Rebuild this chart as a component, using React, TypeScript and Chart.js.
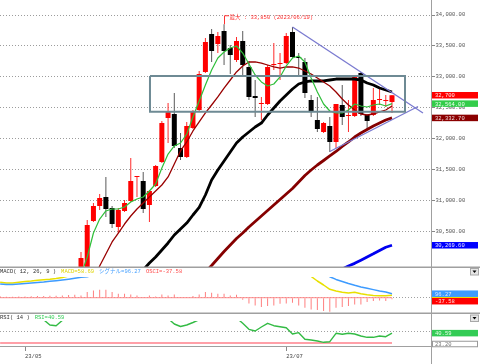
import React, { useEffect, useRef } from "react";
import { Chart, registerables } from "chart.js";
Chart.register(...registerables);

// ---------------- data ----------------
const N = null;
const xTickSlots = [4, 46];
const xTickLabels = ["23/05", "23/07"];
const priceTicks = [30500, 31000, 31500, 32000, 32500, 33000, 33500, 34000];
const maxHighDate = "2023/06/19";

const opens = [28850,28900,29020,28980,29120,29150,28950,29150,29250,29350,29200,29380,29500,
  29788,29901,30663,30906,31052,30873,30566,30825,30987,31376,31311,30922,31230,31619,32331,32396,31845,31700,32169,32461,33077,33692,33530,33741,33465,33271,33579,33158,32688,32558,32558,33190,33206,33222,33725,33320,33239,32623,32299,32105,32202,31943,32542,32364,32364,33060,32380,32380,32623,32607,32591];
const highs = [28950,29050,29120,29150,29250,29200,29180,29300,29400,29450,29420,29550,29700,
  30161,30679,30954,31100,31376,30906,30873,31003,31683,31392,31457,31165,31570,32283,32574,32736,32088,32267,32461,33093,33627,33773,33725,33850,33514,33644,33741,33255,32947,32672,33190,33547,33384,33708,33806,33384,33303,32704,32672,32267,32348,32558,32866,32623,32996,33077,32396,32817,32817,32704,32700];
const lows = [28780,28860,28950,28940,29050,28900,28920,29100,29200,29150,29180,29320,29450,
  29739,29869,30647,30841,30728,30549,30468,30809,30971,31052,30792,30647,31214,31602,31926,31845,31651,31683,32153,32445,33060,33239,33384,33190,33044,33239,33028,32623,32348,32299,32542,33109,32947,33206,33303,33028,32655,32348,32105,32088,31781,31845,32218,32105,32348,32364,32137,32364,32542,32510,32412];
const closes = [28900,29020,28980,29120,29150,28950,29150,29250,29350,29200,29380,29500,29650,
  30063,30598,30906,31035,30857,30614,30841,30954,31311,31392,30857,31149,31554,32250,32429,31878,31700,32202,32429,33044,33563,33417,33660,33417,33352,33579,33190,32672,32655,32574,33158,33206,33222,33660,33320,33303,32736,32429,32153,32250,31943,32558,32348,32380,32996,32396,32283,32623,32639,32623,32700];

const maShort = [N,N,N,N,N,N,N,N,N,N,N,N,
  29550,29788,30080,30468,30695,30825,30857,30857,30890,30971,31019,31052,31149,31262,31521,31748,31878,31926,32072,32348,32607,32866,33109,33303,33401,33465,33498,33384,33206,33028,32915,32850,32882,32996,33174,33303,33336,33239,32979,32753,32558,32445,32412,32412,32461,32558,32526,32510,32542,32558,32526,32564];
const maMid = [N,N,N,N,N,N,N,N,N,N,N,N,N,N,N,
  29700,29934,30128,30323,30468,30614,30744,30857,30954,31052,31149,31246,31376,31586,31797,31943,32121,32267,32413,32542,32672,32817,32947,33077,33174,33239,33239,33222,33190,33158,33141,33158,33158,33141,33093,33044,32979,32915,32850,32753,32639,32542,32461,32396,32380,32396,32429,32461,32526];
const maLong = [N,N,N,N,N,N,N,N,N,N,N,N,N,N,N,N,N,N,N,N,N,N,
  29755,29869,29982,30080,30193,30307,30436,30533,30630,30760,30882,31084,31327,31489,31635,31781,31926,32024,32105,32186,32250,32380,32493,32607,32704,32801,32882,32915,32931,32931,32931,32947,32963,32963,32963,32963,32947,32898,32866,32817,32785,32753];
const maThick = [N,N,N,N,N,N,N,N,N,N,N,N,N,N,N,N,N,N,N,N,N,N,N,N,N,N,N,N,N,N,N,N,N,
  29837,29942,30055,30169,30274,30379,30468,30566,30655,30744,30833,30922,31011,31100,31189,31295,31400,31489,31570,31643,31716,31789,31870,31943,32024,32088,32145,32202,32250,32299,32332.7];
const ma200 = [N,N,N,N,N,N,N,N,N,N,N,N,N,N,N,N,N,N,N,N,N,N,N,N,N,N,N,N,N,N,N,N,N,N,N,N,N,N,N,N,N,N,N,N,N,N,N,N,N,N,N,N,N,N,
  29788,29885,29935,29977,30028,30080,30131,30185,30238,30269.6];

const boxSlots = [24.09, 65.09];
const boxPrices = [33012, 32433];
const upperTrendSlots = [47, 67.98];
const upperTrendPrices = [33806, 32412];
const lowerTrendSlots = [53, 67.18];
const lowerTrendPrices = [31788, 32517];

const macdLine = [370,353,353,370,389,401,418,432,442,461,485,
  520,545,560,640,720,790,840,850,860,880,890,880,850,870,860,900,910,940,910,900,920,960,1040,1060,1070,1090,1060,1080,1000,920,880,840,840,830,840,820,810,730,650,
  509,401,305,202,161,132,113,130,94,70,55,48,48,58.69];
const signalLine = [329,317,317,329,341,353,365,377,394,408,425,444,466,490,
  503,545,598,648,713,764,784,811,825,833,815,829,821,855,861,893,883,879,881,903,940,974,994,1005,1008,1048,1057,1065,1063,1039,1015,984,957,930,915,890,790,696,624,
  504,439,391,341,298,259,226,194,163,137,96.27];
const osci = [36,24,24,31,31,36,41,41,48,48,55,65,72,
  55,137,175,192,192,137,96,96,79,55,17,55,31,79,55,79,17,17,41,79,137,120,96,96,55,72,
  -48,-137,-185,-223,-199,-185,-144,-137,-120,-185,-240,-281,-295,-319,-336,-240,-223,-199,-161,-161,-103,-79,-65,-79,-37.58];

const rsi = [68,66,63,64,66,65,63,62,53.6,52.5,61,64,68,72,78,80,82,83,80,77,78,74,72,73,75,70,68,64,55.2,51.2,
  53.6,57.6,62,70,74,76,75,72,65,56.3,46.7,44,50.4,56.3,52.5,50.9,49.3,39.2,41.3,30.7,29.6,28,25.9,26.9,40.3,38.7,40.3,39.2,36,33.9,
  33.9,36,34.9,40.59];
const rsiLowerLevel = 25;
const rsiGridLevel = 42.5;
const rsiMinLabel = 23.2;

// ---------------- view ranges ----------------
const X_MIN = -0.0225, X_MAX = 69.27;
const PRICE_MIN = 29917.6, PRICE_MAX = 34243;
const MACD_MIN = -367, MACD_MAX = 497;
const RSI_MIN = 20, RSI_MAX = 60;

const MONO = "'Liberation Mono', 'DejaVu Sans Mono', 'Noto Sans CJK JP', monospace";
const FS = 5.5;
const FONT = `${FS}px ${MONO}`;

const fmt2 = (v: number) => v.toLocaleString("en-US", { minimumFractionDigits: 2, maximumFractionDigits: 2 });
const fmt0 = (v: number) => v.toLocaleString("en-US", { maximumFractionDigits: 0 });
const pts = (arr: any[]) => arr.map((v, i) => (v == null ? null : { x: i, y: v })).filter(Boolean);
const LAST = closes.length - 1;

function drawTag(ctx: any, area: any, y: number, text: string, bg: string, fg: string, border?: string) {
  const x = area.right + 1, w = 46, h = 6.5;
  ctx.save();
  ctx.fillStyle = bg;
  ctx.fillRect(x, y - h / 2, w, h);
  if (border) { ctx.strokeStyle = border; ctx.lineWidth = 1; ctx.strokeRect(x + 0.5, y - h / 2 + 0.5, w - 1, h - 1); }
  ctx.fillStyle = fg;
  ctx.font = FONT;
  ctx.textAlign = "left";
  ctx.textBaseline = "middle";
  ctx.fillText(text, x + 3, y + 0.5);
  ctx.restore();
}

function drawDropdown(ctx: any, width: number, top: number) {
  ctx.save();
  ctx.fillStyle = "#e6e6e6";
  ctx.fillRect(width - 9.5, top, 8, 6.5);
  ctx.strokeStyle = "#a8a8a8";
  ctx.lineWidth = 1;
  ctx.strokeRect(width - 9.5, top, 8, 6.5);
  ctx.fillStyle = "#000";
  ctx.beginPath();
  ctx.moveTo(width - 7.5, top + 2);
  ctx.lineTo(width - 3.5, top + 2);
  ctx.lineTo(width - 5.5, top + 4.5);
  ctx.closePath();
  ctx.fill();
  ctx.restore();
}

function drawHeader(ctx: any, y: number, parts: [string, string][]) {
  ctx.save();
  ctx.font = FONT;
  ctx.textAlign = "left";
  ctx.textBaseline = "middle";
  let x = 0;
  parts.forEach(([t, c]) => {
    ctx.fillStyle = c;
    ctx.fillText(t, x, y);
    x += ctx.measureText(t).width + 5;
  });
  ctx.restore();
}

const framePlugin = (sep: boolean) => ({
  id: "frame",
  afterDraw(chart: any) {
    const { ctx, chartArea, height, width } = chart;
    ctx.save();
    ctx.fillStyle = "#a0a0a0";
    ctx.fillRect(chartArea.right, 0, 1, height);
    if (sep) ctx.fillRect(0, height - 1.5, width, 1.5);
    ctx.restore();
  },
});

const common = {
  responsive: false,
  animation: false,
  events: [],
  plugins: { legend: { display: false }, tooltip: { enabled: false } },
};

const hiddenX = { type: "linear", min: X_MIN, max: X_MAX, display: false, offset: false };

function rightAxis(min: number, max: number, ticks: number[], showLabels: boolean, gridColor: string) {
  return {
    position: "right",
    min,
    max,
    afterFit: (s: any) => { s.width = 49; s.paddingTop = 0; s.paddingBottom = 0; },
    afterBuildTicks: (s: any) => { s.ticks = ticks.map((v) => ({ value: v })); },
    grid: { color: gridColor, lineWidth: 1, drawTicks: showLabels, tickLength: 4, tickColor: "#888", tickBorderDash: [] },
    border: { display: false, dash: [1, 2] },
    ticks: {
      display: showLabels,
      padding: 0.5,
      color: "#555",
      font: { family: MONO, size: FS },
      callback: (v: number) => fmt2(v),
    },
  };
}

const lineDs = (label: string, data: any[], color: string, width: number, order: number) => ({
  type: "line", label, data, borderColor: color, borderWidth: width, pointRadius: 0, pointHoverRadius: 0,
  tension: 0, fill: false, order, clip: 0, borderJoinStyle: "round",
});

function mainConfig(): any {
  const idx = closes.map((_, i) => i);
  const up = idx.map((i) => closes[i] >= opens[i]);
  const bodies = idx.map((i) => ({ x: i, y: [opens[i], closes[i]] }));
  const wicks = idx.map((i) => ({ x: i, y: [lows[i], highs[i]] }));
  const rect = [
    { x: boxSlots[0], y: boxPrices[0] }, { x: boxSlots[1], y: boxPrices[0] },
    { x: boxSlots[1], y: boxPrices[1] }, { x: boxSlots[0], y: boxPrices[1] }, { x: boxSlots[0], y: boxPrices[0] },
  ];
  const upperT = upperTrendSlots.map((s, i) => ({ x: s, y: upperTrendPrices[i] }));
  const lowerT = lowerTrendSlots.map((s, i) => ({ x: s, y: lowerTrendPrices[i] }));
  return {
    type: "bar",
    data: {
      datasets: [
        { ...lineDs("box", rect, "#6e8a94", 2, 0), borderJoinStyle: "miter" },
        lineDs("upper", upperT, "#7a7ad0", 1.3, 0),
        lineDs("lower", lowerT, "#7a7ad0", 1.3, 0),
        lineDs("ma5", pts(maShort), "#2fbf3a", 1.2, 1),
        lineDs("ma25", pts(maMid), "#990000", 1.3, 2),
        lineDs("ma75", pts(maLong), "#000000", 2.8, 3),
        lineDs("maThick", pts(maThick), "#850000", 2.8, 4),
        lineDs("ma200", pts(ma200), "#0000f0", 2.8, 5),
        {
          type: "bar", label: "body", data: bodies, backgroundColor: up.map((u) => (u ? "#ff0000" : "#000000")),
          barThickness: 5, grouped: false, minBarLength: 1, inflateAmount: 0, borderWidth: 0, order: 10,
        },
        {
          type: "bar", label: "wick", data: wicks, backgroundColor: up.map((u) => (u ? "#ff2a2a" : "#5a5a5a")),
          barThickness: 1, grouped: false, inflateAmount: 0, borderWidth: 0, order: 11,
        },
      ],
    },
    options: {
      ...common,
      layout: { padding: { top: 0, bottom: 1, left: 0, right: 0 } },
      scales: {
        x: hiddenX,
        y: rightAxis(PRICE_MIN, PRICE_MAX, priceTicks, true, "#9c9c9c"),
      },
    },
    plugins: [
      framePlugin(true),
      {
        id: "mainTags",
        afterDraw(chart: any) {
          const { ctx, chartArea } = chart;
          const ys = chart.scales.y, xs = chart.scales.x;
          drawTag(ctx, chartArea, ys.getPixelForValue(ma200[LAST]), fmt2(ma200[LAST]), "#0000ff", "#e8e8ff");
          drawTag(ctx, chartArea, ys.getPixelForValue(maThick[LAST]), fmt2(maThick[LAST]), "#8b0000", "#f0d8d8");
          drawTag(ctx, chartArea, ys.getPixelForValue(maShort[LAST]), fmt2(maShort[LAST]), "#33cc4a", "#f0fff0");
          drawTag(ctx, chartArea, ys.getPixelForValue(closes[LAST]), fmt0(closes[LAST]), "#ff0000", "#ffe8e8");
          // max marker
          let mi = 0;
          highs.forEach((h, i) => { if (h > highs[mi]) mi = i; });
          const px = Math.round(xs.getPixelForValue(mi)) + 0.5;
          const py = ys.getPixelForValue(highs[mi]);
          const ly = py - 7;
          ctx.save();
          ctx.strokeStyle = "#ff3030";
          ctx.lineWidth = 1;
          ctx.beginPath();
          ctx.moveTo(px, py);
          ctx.lineTo(px, ly - 1.5);
          ctx.lineTo(px + 4.5, ly - 1.5);
          ctx.stroke();
          ctx.fillStyle = "#ff3030";
          ctx.font = FONT;
          ctx.textAlign = "left";
          ctx.textBaseline = "middle";
          ctx.fillText(`最大 : ${fmt0(highs[mi])} (${maxHighDate})`, px + 5, ly);
          ctx.restore();
        },
      },
    ],
  };
}

function macdConfig(): any {
  const bars = osci.map((v, i) => ({ x: i, y: v }));
  const base = [{ x: 0, y: 0 }, { x: LAST, y: 0 }];
  return {
    type: "bar",
    data: {
      datasets: [
        lineDs("macd", pts(macdLine), "#e8e000", 1.5, 1),
        lineDs("signal", pts(signalLine), "#3d9bff", 1.5, 0),
        lineDs("base", base, "#ff8a8a", 1, 3),
        { type: "bar", label: "osci", data: bars, backgroundColor: "#ff7f7f", barThickness: 1, inflateAmount: 0, borderWidth: 0, order: 4 },
      ],
    },
    options: {
      ...common,
      layout: { padding: { top: 9, bottom: 1, left: 0, right: 0 } },
      scales: { x: hiddenX, y: rightAxis(MACD_MIN, MACD_MAX, [0], false, "#a0a0a0") },
    },
    plugins: [
      framePlugin(true),
      {
        id: "macdExtras",
        afterDraw(chart: any) {
          const { ctx, chartArea, width } = chart;
          const ys = chart.scales.y;
          drawHeader(ctx, chartArea.top - 5.5, [
            ["MACD( 12, 26, 9 )", "#333333"],
            [`MACD=${macdLine[LAST].toFixed(2)}`, "#e0d400"],
            [`シグナル=${signalLine[LAST].toFixed(2)}`, "#4aa2ff"],
            [`OSCI=${osci[LAST].toFixed(2)}`, "#ff5050"],
          ]);
          const yM = ys.getPixelForValue(macdLine[LAST]);
          const yS = ys.getPixelForValue(signalLine[LAST]);
          let yO = ys.getPixelForValue(osci[LAST]);
          if (yO - 3.25 < yS + 3.25 + 1) yO = yS + 6.5 + 1;
          drawTag(ctx, chartArea, yM, macdLine[LAST].toFixed(2), "#f2e400", "#555");
          drawTag(ctx, chartArea, yS, signalLine[LAST].toFixed(2), "#3d9bff", "#e0e8ff");
          drawTag(ctx, chartArea, yO, osci[LAST].toFixed(2), "#ff0000", "#ffe0e0");
          drawDropdown(ctx, width, 0.5);
        },
      },
    ],
  };
}

function rsiConfig(): any {
  const level = [{ x: 0, y: rsiLowerLevel }, { x: LAST, y: rsiLowerLevel }];
  return {
    type: "line",
    data: {
      datasets: [
        lineDs("rsi", pts(rsi), "#33bb44", 1.4, 0),
        lineDs("lower", level, "#ffa0a8", 2, 1),
      ],
    },
    options: {
      ...common,
      layout: { padding: { top: 7, bottom: 0, left: 0, right: 0 } },
      scales: {
        x: {
          type: "linear", min: X_MIN, max: X_MAX, position: "bottom", offset: false,
          afterBuildTicks: (s: any) => { s.ticks = xTickSlots.map((v) => ({ value: v })); },
          afterFit: (s: any) => { s.height = 18; s.paddingLeft = 0; s.paddingRight = 0; },
          ticks: {
            autoSkip: false, maxRotation: 0, minRotation: 0, align: "start", padding: 2,
            color: "#444", font: { family: MONO, size: FS },
            callback: (_v: number, i: number) => xTickLabels[i],
          },
          grid: { drawOnChartArea: false, drawTicks: true, tickLength: 5, tickColor: "#888", tickWidth: 1 },
          border: { display: true, color: "#a0a0a0", width: 1 },
        },
        y: rightAxis(RSI_MIN, RSI_MAX, [rsiGridLevel], false, "#a0a0a0"),
      },
    },
    plugins: [
      framePlugin(false),
      {
        id: "rsiExtras",
        afterDraw(chart: any) {
          const { ctx, chartArea, width } = chart;
          const ys = chart.scales.y;
          drawHeader(ctx, chartArea.top - 3.3, [
            ["RSI( 14 )", "#333333"],
            [`RSI=${rsi[LAST].toFixed(2)}`, "#33cc55"],
          ]);
          drawTag(ctx, chartArea, ys.getPixelForValue(rsiMinLabel), rsiMinLabel.toFixed(2), "#ffffff", "#777", "#999");
          drawTag(ctx, chartArea, ys.getPixelForValue(rsi[LAST]), rsi[LAST].toFixed(2), "#33cc55", "#e8ffe8");
          drawDropdown(ctx, width, 1);
        },
      },
    ],
  };
}

function useChart(ref: any, make: () => any) {
  useEffect(() => {
    const c = new Chart(ref.current, make());
    return () => c.destroy();
  }, []);
}

export default function App() {
  const mainRef = useRef<HTMLCanvasElement>(null);
  const macdRef = useRef<HTMLCanvasElement>(null);
  const rsiRef = useRef<HTMLCanvasElement>(null);
  useChart(mainRef, mainConfig);
  useChart(macdRef, macdConfig);
  useChart(rsiRef, rsiConfig);
  return (
    <div style={{ position: "fixed", left: 0, top: 0, width: 480, height: 364, background: "#fff", overflow: "hidden" }}>
      <canvas ref={mainRef} width={480} height={268} style={{ position: "absolute", left: 0, top: 0 }} />
      <canvas ref={macdRef} width={480} height={46} style={{ position: "absolute", left: 0, top: 268 }} />
      <canvas ref={rsiRef} width={480} height={50} style={{ position: "absolute", left: 0, top: 314 }} />
    </div>
  );
}
